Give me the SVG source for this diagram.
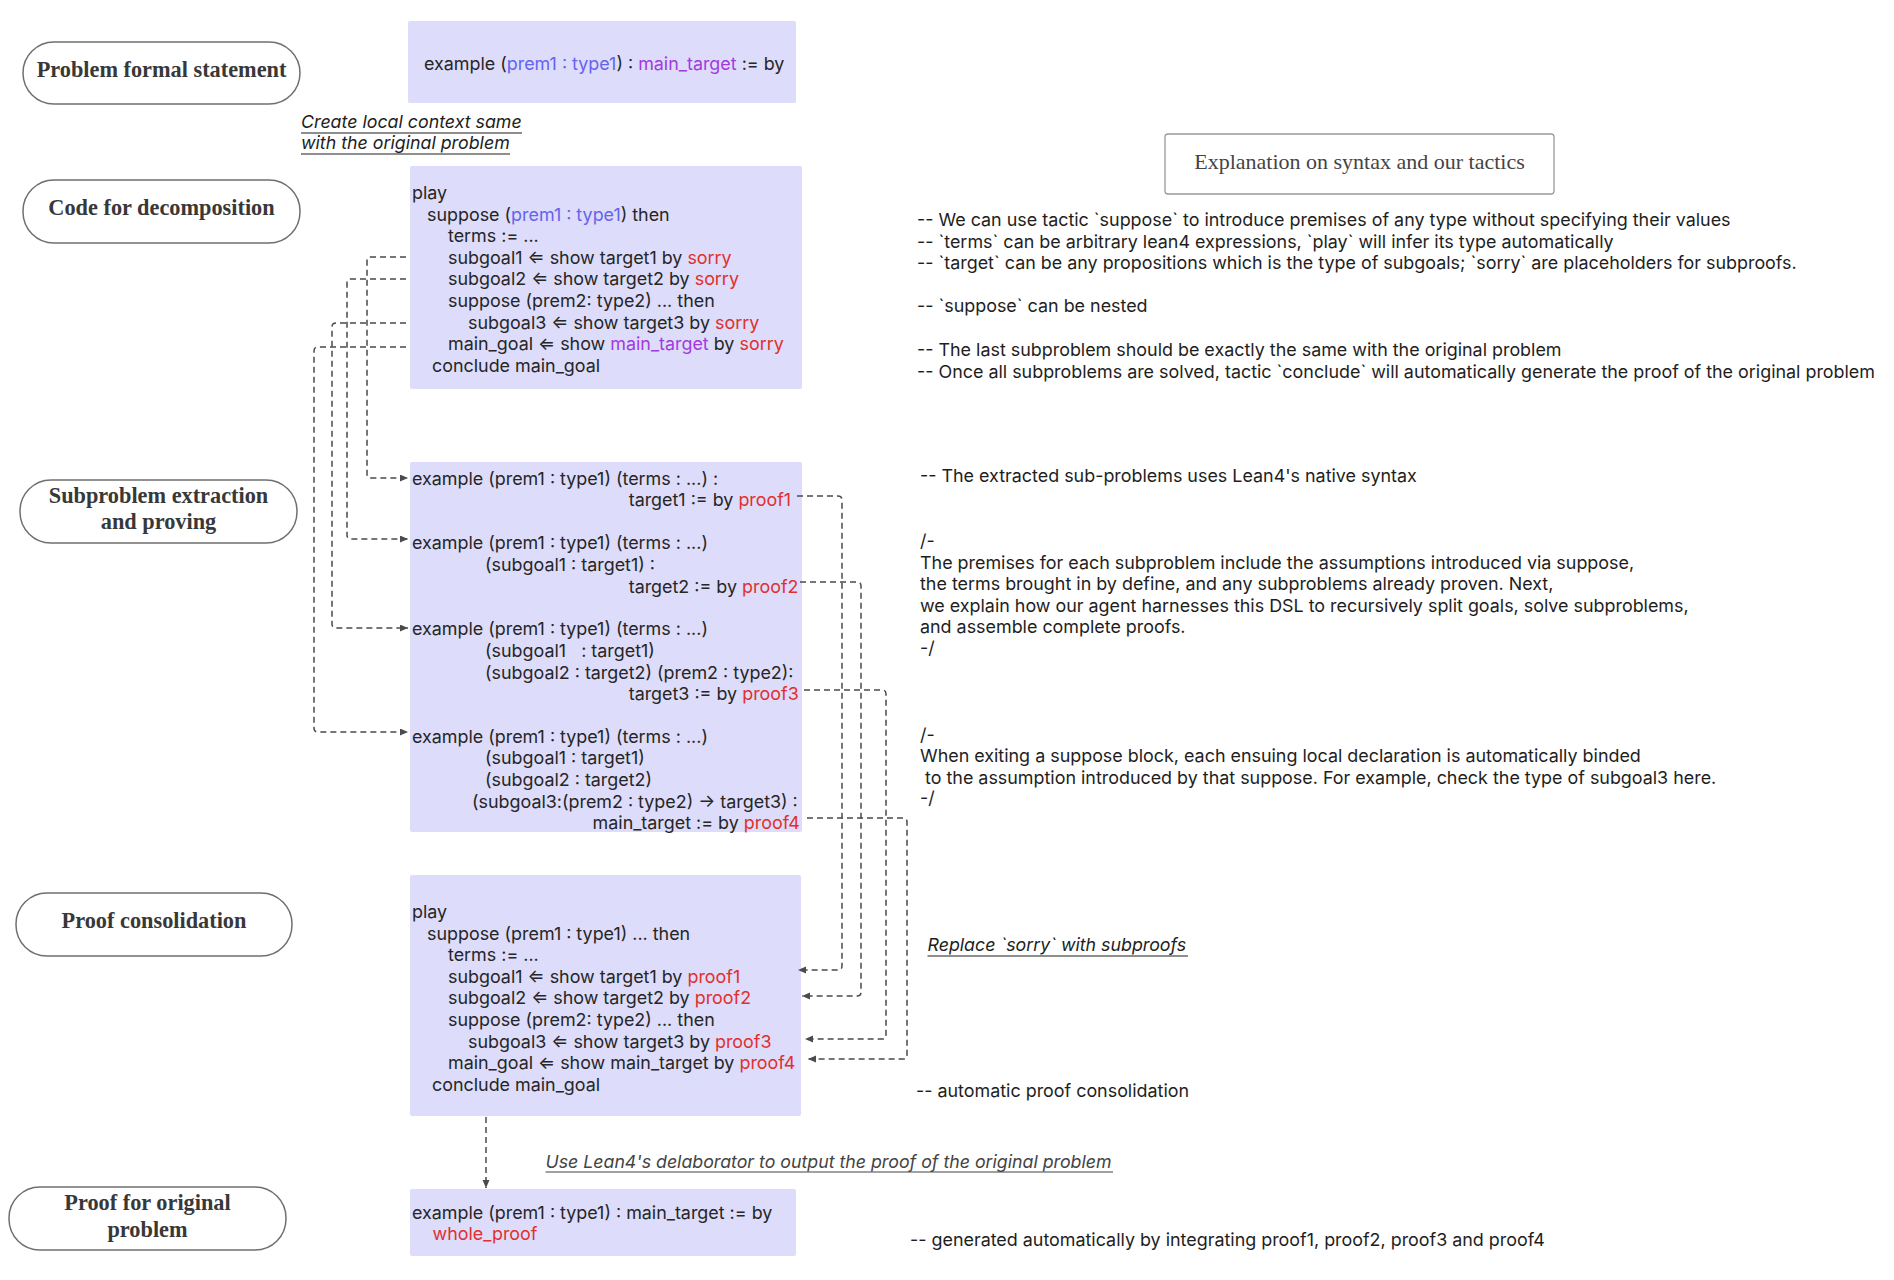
<svg xmlns="http://www.w3.org/2000/svg" width="1894" height="1280" viewBox="0 0 1894 1280">
<style>
.pill{fill:#fff;stroke:#6f6f6f;stroke-width:1.5}
.lbl{font-family:"Liberation Serif",serif;font-weight:bold;font-size:22.3px;fill:#383838;text-anchor:middle}
.box{fill:#dddcfa}
.code{font-family:Inter,"Noto Sans","DejaVu Sans",sans-serif;font-size:17.9px;fill:#262626}
.note{font-family:Inter,"Noto Sans","DejaVu Sans",sans-serif;font-size:17.9px;fill:#1e1e1e}
.it{font-family:Inter,"Noto Sans","DejaVu Sans",sans-serif;font-size:17.8px;font-style:italic;fill:#1e1e1e}
.b{fill:#6464ee}
.p{fill:#a23ae0}
.r{fill:#e0302e}
.conn{fill:none;stroke:#4a4a4f;stroke-width:1.5;stroke-dasharray:6 4}
.ul{stroke:#1e1e1e;stroke-width:1.2}
</style>
<defs>
<marker id="ah" markerUnits="userSpaceOnUse" markerWidth="9" markerHeight="8" refX="8" refY="3.5" orient="auto">
<path d="M0,0 L8,3.5 L0,7 z" fill="#4a4a4f"/>
</marker>
</defs>
<rect width="1894" height="1280" fill="#fff"/>

<g id="stage-problem-formal-statement">
<rect class="pill" x="23" y="42" width="277" height="62" rx="31"/>
<text class="lbl" x="161.5" y="76.5">Problem formal statement</text>
</g>
<g id="stage-code-for-decomposition">
<rect class="pill" x="23" y="180" width="277" height="63" rx="31"/>
<text class="lbl" x="161.5" y="215">Code for decomposition</text>
</g>
<g id="stage-subproblem-extraction">
<rect class="pill" x="20" y="480" width="277" height="63" rx="31"/>
<text class="lbl" x="158.5" y="503">Subproblem extraction</text>
<text class="lbl" x="158.5" y="529">and proving</text>
</g>
<g id="stage-proof-consolidation">
<rect class="pill" x="16" y="893" width="276" height="63" rx="31"/>
<text class="lbl" x="154" y="928">Proof consolidation</text>
</g>
<g id="stage-proof-original">
<rect class="pill" x="9" y="1187" width="277" height="63" rx="31"/>
<text class="lbl" x="147.5" y="1210">Proof for original</text>
<text class="lbl" x="147.5" y="1237">problem</text>
</g>

<g id="box-statement">
<rect class="box" x="408" y="21" width="388" height="82" rx="2"/>
<text class="code" x="424" y="70">example (<tspan class="b">prem1 : type1</tspan>) : <tspan class="p">main_target</tspan> := by</text>
</g>

<g id="label-create-context">
<text class="it" x="301" y="128">Create local context same</text>
<text class="it" x="301" y="149">with the original problem</text>
<line class="ul" x1="301" y1="133" x2="522" y2="133"/>
<line class="ul" x1="301" y1="154" x2="510" y2="154"/>
</g>

<g id="box-decomposition">
<rect class="box" x="410" y="166" width="392" height="223" rx="2"/>
<text class="code" x="412" y="199">play</text>
<text class="code" x="427" y="220.6">suppose (<tspan class="b">prem1 : type1</tspan>) then</text>
<text class="code" x="448" y="242.2">terms := ...</text>
<text class="code" x="448" y="263.8">subgoal1 ⇐ show target1 by <tspan class="r">sorry</tspan></text>
<text class="code" x="448" y="285.4">subgoal2 ⇐ show target2 by <tspan class="r">sorry</tspan></text>
<text class="code" x="448" y="307">suppose (prem2: type2) ... then</text>
<text class="code" x="468" y="328.6">subgoal3 ⇐ show target3 by <tspan class="r">sorry</tspan></text>
<text class="code" x="448" y="350.2">main_goal ⇐ show <tspan class="p">main_target</tspan> by <tspan class="r">sorry</tspan></text>
<text class="code" x="432" y="371.8">conclude main_goal</text>
</g>

<g id="box-subproblems">
<rect class="box" x="410" y="462" width="392" height="370" rx="2"/>
<text class="code" x="412" y="485">example (prem1 : type1) (terms : ...) :</text>
<text class="code" x="628.7" y="506">target1 := by <tspan class="r">proof1</tspan></text>
<text class="code" x="412" y="549">example (prem1 : type1) (terms : ...)</text>
<text class="code" x="485" y="571">(subgoal1 : target1) :</text>
<text class="code" x="628.7" y="593">target2 := by <tspan class="r">proof2</tspan></text>
<text class="code" x="412" y="635">example (prem1 : type1) (terms : ...)</text>
<text class="code" x="485" y="657" xml:space="preserve">(subgoal1   : target1)</text>
<text class="code" x="485" y="679">(subgoal2 : target2) (prem2 : type2):</text>
<text class="code" x="628.7" y="700">target3 := by <tspan class="r">proof3</tspan></text>
<text class="code" x="412" y="743">example (prem1 : type1) (terms : ...)</text>
<text class="code" x="485" y="764">(subgoal1 : target1)</text>
<text class="code" x="485" y="786">(subgoal2 : target2)</text>
<text class="code" x="472" y="808">(subgoal3:(prem2 : type2) → target3) :</text>
<text class="code" x="592.6" y="829">main_target := by <tspan class="r">proof4</tspan></text>
</g>

<g id="box-consolidation">
<rect class="box" x="410" y="875" width="391" height="241" rx="2"/>
<text class="code" x="412" y="918">play</text>
<text class="code" x="427" y="939.6">suppose (prem1 : type1) ... then</text>
<text class="code" x="448" y="961.2">terms := ...</text>
<text class="code" x="448" y="982.8">subgoal1 ⇐ show target1 by <tspan class="r">proof1</tspan></text>
<text class="code" x="448" y="1004.4">subgoal2 ⇐ show target2 by <tspan class="r">proof2</tspan></text>
<text class="code" x="448" y="1026">suppose (prem2: type2) ... then</text>
<text class="code" x="468" y="1047.6">subgoal3 ⇐ show target3 by <tspan class="r">proof3</tspan></text>
<text class="code" x="448" y="1069.2">main_goal ⇐ show main_target by <tspan class="r">proof4</tspan></text>
<text class="code" x="432" y="1090.8">conclude main_goal</text>
</g>

<g id="box-final">
<rect class="box" x="410" y="1189" width="386" height="67" rx="2"/>
<text class="code" x="412" y="1219">example (prem1 : type1) : main_target := by</text>
<text class="code" x="432.5" y="1240"><tspan class="r">whole_proof</tspan></text>
</g>

<g id="explanation-title">
<rect x="1165" y="134" width="389" height="60" rx="3" fill="#fff" stroke="#9a9a9a" stroke-width="1.3"/>
<text x="1359.5" y="169" font-family="Liberation Serif,serif" font-size="22" fill="#444" text-anchor="middle">Explanation on syntax and our tactics</text>
</g>

<g id="notes">
<text class="note" x="917" y="226">-- We can use tactic `suppose` to introduce premises of any type without specifying their values</text>
<text class="note" x="917" y="248">-- `terms` can be arbitrary lean4 expressions, `play` will infer its type automatically</text>
<text class="note" x="917" y="269">-- `target` can be any propositions which is the type of subgoals; `sorry` are placeholders for subproofs.</text>
<text class="note" x="917" y="312">-- `suppose` can be nested</text>
<text class="note" x="917" y="356">-- The last subproblem should be exactly the same with the original problem</text>
<text class="note" x="917" y="378">-- Once all subproblems are solved, tactic `conclude` will automatically generate the proof of the original problem</text>
<text class="note" x="920" y="482">-- The extracted sub-problems uses Lean4's native syntax</text>
<text class="note" x="920" y="547">/-</text>
<text class="note" x="920" y="569">The premises for each subproblem include the assumptions introduced via suppose,</text>
<text class="note" x="920" y="590">the terms brought in by define, and any subproblems already proven. Next,</text>
<text class="note" x="920" y="612">we explain how our agent harnesses this DSL to recursively split goals, solve subproblems,</text>
<text class="note" x="920" y="633">and assemble complete proofs.</text>
<text class="note" x="920" y="654">-/</text>
<text class="note" x="920" y="741">/-</text>
<text class="note" x="920" y="762">When exiting a suppose block, each ensuing local declaration is automatically binded</text>
<text class="note" x="920" y="784" xml:space="preserve"> to the assumption introduced by that suppose. For example, check the type of subgoal3 here.</text>
<text class="note" x="920" y="804">-/</text>
<text class="note" x="916" y="1097">-- automatic proof consolidation</text>
<text class="note" x="910" y="1246">-- generated automatically by integrating proof1, proof2, proof3 and proof4</text>
</g>

<g id="label-replace">
<text class="it" x="927.5" y="951">Replace `sorry` with subproofs</text>
<line class="ul" x1="927.5" y1="956" x2="1188" y2="956"/>
</g>
<g id="label-delaborator">
<text class="it" x="545.5" y="1168" textLength="566" lengthAdjust="spacingAndGlyphs" style="fill:#444">Use Lean4's delaborator to output the proof of the original problem</text>
<line class="ul" x1="545.5" y1="1172" x2="1113" y2="1172" style="stroke:#444"/>
</g>

<g id="connectors">
<path class="conn" marker-end="url(#ah)" d="M406,257 H371 Q367,257 367,261 V474 Q367,478 371,478 H408"/>
<path class="conn" marker-end="url(#ah)" d="M406,279 H351 Q347,279 347,283 V535 Q347,539 351,539 H408"/>
<path class="conn" marker-end="url(#ah)" d="M406,323 H336 Q332,323 332,327 V624 Q332,628 336,628 H408"/>
<path class="conn" marker-end="url(#ah)" d="M406,347 H318 Q314,347 314,351 V728 Q314,732 318,732 H408"/>
<path class="conn" marker-end="url(#ah)" d="M797,496 H838 Q842,496 842,500 V966 Q842,970 838,970 H798"/>
<path class="conn" marker-end="url(#ah)" d="M800,582 H857 Q861,582 861,586 V992 Q861,996 857,996 H802"/>
<path class="conn" marker-end="url(#ah)" d="M804,690 H882 Q886,690 886,694 V1035 Q886,1039 882,1039 H805"/>
<path class="conn" marker-end="url(#ah)" d="M807,818 H903 Q907,818 907,822 V1055 Q907,1059 903,1059 H808"/>
<path class="conn" marker-end="url(#ah)" d="M486,1117 V1188"/>
</g>
</svg>
